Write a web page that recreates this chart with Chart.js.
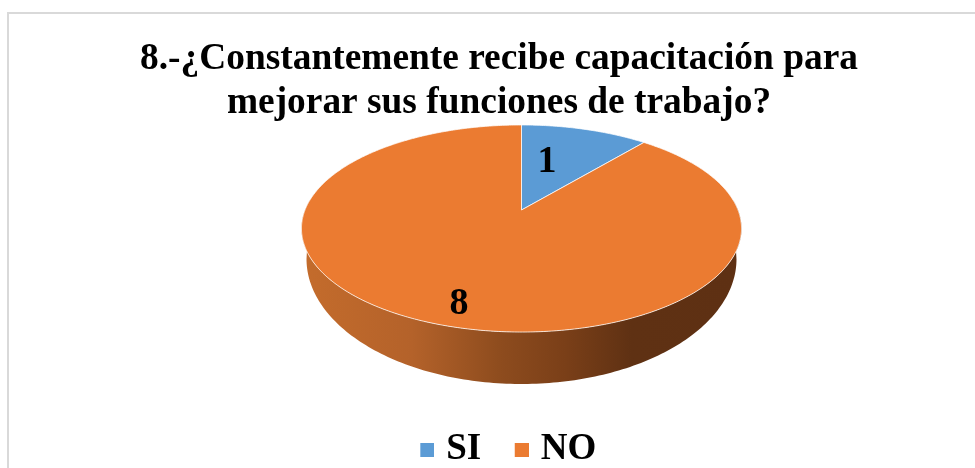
<!DOCTYPE html>
<html>
<head>
<meta charset="utf-8">
<style>
  html, body { margin: 0; padding: 0; background: #fff; overflow: hidden; width: 975px; height: 468px; }
  #marco { position: absolute; left: 7px; top: 12px; width: 990px; height: 490px; border-left: 2px solid #d9d9d9; border-top: 2px solid #d9d9d9; }
  #marco canvas { display: block; }
</style>
<script src="https://cdn.jsdelivr.net/npm/chart.js@4"></script>
</head>
<body>
<div id="marco"><canvas id="grafica" width="980" height="464"></canvas></div>
<script>
const categorias = ['SI', 'NO'];
const valores = [1, 8];
const colores = ['#5B9BD5', '#EB7B31'];
const tituloLineas = ['8.-¿Constantemente recibe capacitación para', 'mejorar sus funciones de trabajo?'];

// pie en perspectiva, medidas en pixeles de la pagina (el canvas empieza en 9,14)
const ORIGEN_Y = 14;
const P = { cx: 512.5, ay: 210, a: 216.5, b: 62.7, k: 0.1787, baseRx: 215, baseRy: 125, baseY: 259 };

function proyectar(ang, r) {
  const u = Math.cos(ang) * r, v = Math.sin(ang) * r, w = 1 - P.k * v;
  return [P.cx + P.a * u / w, (P.ay + P.b * v) / w - ORIGEN_Y];
}

// el cuadrito de la leyenda va corrido a la derecha para acercarlo al texto
function marcaLeyenda(color) {
  const c = document.createElement('canvas');
  c.width = 27;
  c.height = 14;
  const g = c.getContext('2d');
  g.fillStyle = color;
  g.fillRect(13, 0, 14, 14);
  return c;
}

const pie3d = {
  id: 'pie3d',
  beforeDraw(chart) {
    // la leyenda no esta centrada con el titulo en el original
    if (!chart.$leyendaMovida) {
      chart.legend.left += 12;
      chart.$leyendaMovida = true;
    }
  },
  beforeDatasetDraw(chart) {
    const ctx = chart.ctx;
    const arcos = chart.getDatasetMeta(0).data;

    // pared lateral
    const grad = ctx.createLinearGradient(P.cx - 220, 0, P.cx + 220, 0);
    grad.addColorStop(0, '#C46C2C');
    grad.addColorStop(0.25, '#B4622A');
    grad.addColorStop(0.45, '#8E4C1E');
    grad.addColorStop(0.6, '#7A3F18');
    grad.addColorStop(0.75, '#5F3113');
    grad.addColorStop(1, '#5E3013');
    ctx.save();
    ctx.beginPath();
    for (let t = -0.1; t <= Math.PI + 0.1; t += 0.02) {
      const p = proyectar(t, 1);
      ctx.lineTo(p[0], p[1]);
    }
    for (let t = Math.PI; t >= 0; t -= 0.02) {
      ctx.lineTo(P.cx + P.baseRx * Math.cos(t), P.baseY - ORIGEN_Y + P.baseRy * Math.sin(t));
    }
    ctx.closePath();
    ctx.fillStyle = grad;
    ctx.fill();

    // cara superior, con los angulos que calcula Chart.js
    arcos.forEach((arco, i) => {
      const a0 = arco.startAngle, a1 = arco.endAngle;
      ctx.beginPath();
      const c = proyectar(0, 0);
      ctx.moveTo(c[0], c[1]);
      for (let t = a0; t < a1; t += 0.01) {
        const p = proyectar(t, 1);
        ctx.lineTo(p[0], p[1]);
      }
      const pf = proyectar(a1, 1);
      ctx.lineTo(pf[0], pf[1]);
      ctx.closePath();
      ctx.fillStyle = colores[i];
      ctx.fill();
      ctx.lineWidth = 1;
      ctx.strokeStyle = 'rgba(255,255,255,0.75)';
      ctx.stroke();
    });
    ctx.restore();
    return false;
  },
  afterDatasetsDraw(chart) {
    const ctx = chart.ctx;
    const posiciones = [[538, 148], [450, 290]];
    ctx.save();
    ctx.font = 'bold 38px "Liberation Serif"';
    ctx.fillStyle = '#000';
    ctx.textAlign = 'center';
    ctx.textBaseline = 'middle';
    valores.forEach((v, i) => ctx.fillText(String(v), posiciones[i][0], posiciones[i][1]));
    ctx.restore();
  }
};

new Chart(document.getElementById('grafica'), {
  type: 'pie',
  data: {
    labels: categorias,
    datasets: [{ data: valores, backgroundColor: colores, borderWidth: 0 }]
  },
  options: {
    responsive: false,
    animation: false,
    plugins: {
      tooltip: { enabled: false },
      title: {
        display: true,
        text: tituloLineas,
        color: '#000',
        font: { family: '"Liberation Serif"', size: 37.4, weight: 'bold', lineHeight: 1.18 },
        padding: { top: 23, bottom: 0 }
      },
      legend: {
        position: 'bottom',
        labels: {
          color: '#000',
          font: { family: '"Liberation Serif"', size: 37, weight: 'bold' },
          usePointStyle: true,
          boxWidth: 14,
          boxHeight: 14,
          padding: 27,
          generateLabels() {
            return categorias.map((nombre, i) => ({
              text: nombre,
              fontColor: '#000',
              pointStyle: marcaLeyenda(colores[i]),
              index: i
            }));
          }
        }
      }
    }
  },
  plugins: [pie3d]
});
</script>
</body>
</html>
